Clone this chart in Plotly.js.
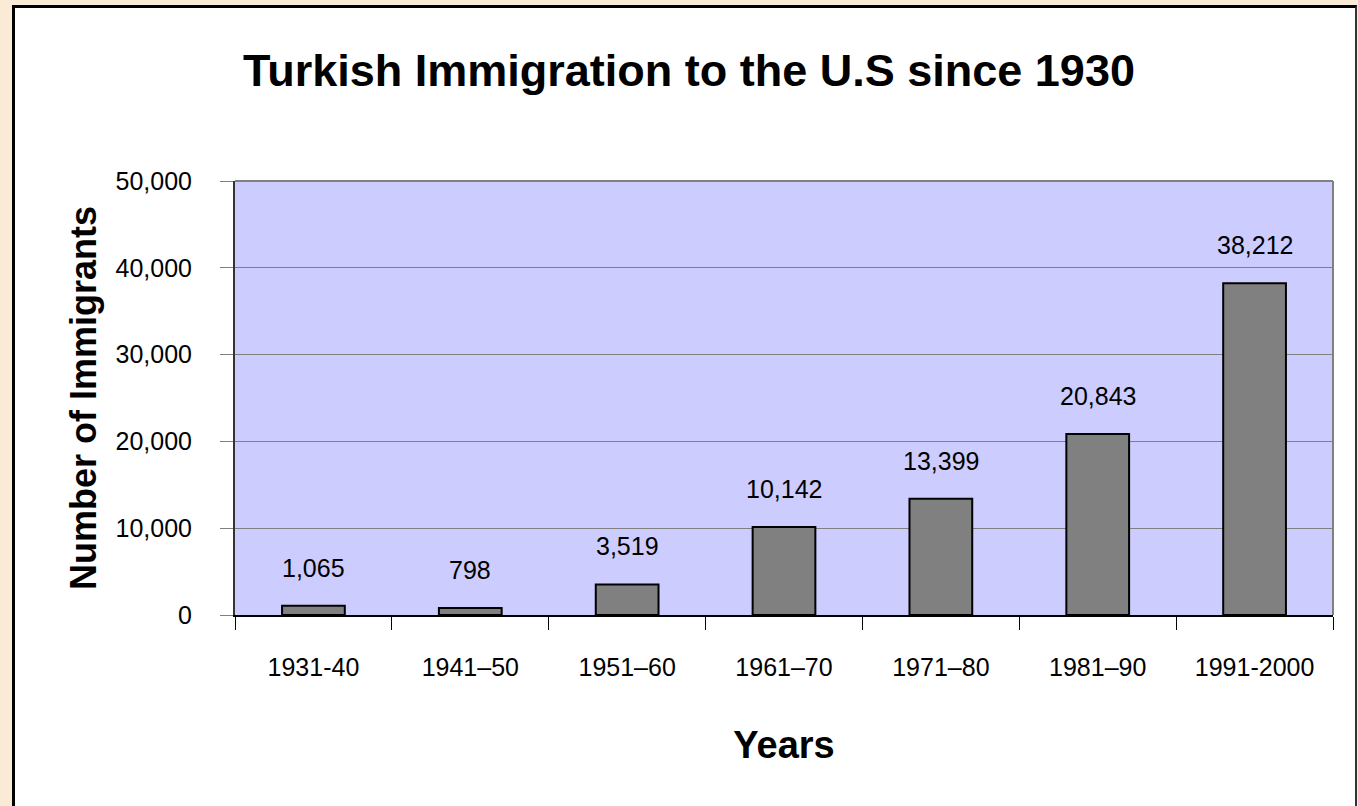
<!DOCTYPE html>
<html>
<head>
<meta charset="utf-8">
<script src="https://cdn.plot.ly/plotly-3.0.1.min.js"></script>
<style>
  html, body { margin: 0; padding: 0; background: #FAEBD7; width: 1358px; height: 806px; overflow: hidden; }
  #frame { position: absolute; left: 12px; top: 5px; width: 1340px; height: 810px;
           border-top: 3px solid #000; border-left: 3px solid #000; border-right: 2px solid #333;
           background: #fff; }
  #chart { width: 1340px; height: 798px; }
</style>
</head>
<body>
<div id="frame"><div id="chart"></div></div>
<script>
const categories = ["1931-40", "1941\u201350", "1951\u201360", "1961\u201370", "1971\u201380", "1981\u201390", "1991-2000"];
const immigrants = [1065, 798, 3519, 10142, 13399, 20843, 38212];
const yTickValues = [0, 10000, 20000, 30000, 40000, 50000];

const FONT = '"Liberation Sans", Arial, Helvetica, sans-serif';

const annotations = categories.map((c, i) => ({
  x: c, y: immigrants[i], xref: 'x', yref: 'y',
  text: immigrants[i].toLocaleString('en-US'),
  showarrow: false, yanchor: 'middle', yshift: 38,
  font: { family: FONT, size: 25, color: '#000' }
}));

const trace = {
  type: 'bar', x: categories, y: immigrants,
  marker: { color: '#808080', line: { color: '#000', width: 2 } },
  hoverinfo: 'x+y'
};

const layout = {
  width: 1340, height: 798,
  margin: { l: 220, r: 22, t: 173, b: 191 },
  paper_bgcolor: '#ffffff', plot_bgcolor: '#CCCCFF',
  font: { family: FONT, color: '#000' },
  bargap: 0.6,
  showlegend: false,
  title: { text: 'Turkish Immigration to the U.S since 1930', x: 0.503, xanchor: 'center',
           y: 1 - 62 / 798, yanchor: 'middle', yref: 'container',
           font: { family: FONT, size: 45, color: '#000', weight: 'bold' } },
  xaxis: {
    type: 'category', tickson: 'boundaries', ticks: 'outside', ticklen: 13, tickwidth: 1, tickcolor: '#000',
    showline: true, linecolor: '#000', linewidth: 1.5, showgrid: false, zeroline: false,
    tickfont: { family: FONT, size: 25, color: '#000' }, ticklabelstandoff: 29,
    title: { text: 'Years', standoff: 52, font: { family: FONT, size: 38, color: '#000', weight: 'bold' } }
  },
  yaxis: {
    range: [0, 50000], tickvals: yTickValues, tickformat: ',d',
    ticks: 'outside', ticklen: 13, tickwidth: 1, tickcolor: '#808080',
    showline: true, linecolor: '#333', linewidth: 2,
    showgrid: true, gridcolor: '#808080', gridwidth: 1, zeroline: false,
    tickfont: { family: FONT, size: 25, color: '#000' }, ticklabelstandoff: 23,
    title: { text: 'Number of Immigrants', standoff: 8, font: { family: FONT, size: 36, color: '#000', weight: 'bold' } }
  },
  shapes: [
    { type: 'line', xref: 'paper', yref: 'paper', x0: 1, x1: 1, y0: 0, y1: 1, line: { color: '#808080', width: 2 } },
    { type: 'line', xref: 'paper', yref: 'paper', x0: 0, x1: 1, y0: 1, y1: 1, line: { color: '#808080', width: 2 } }
  ],
  annotations: annotations
};

Plotly.newPlot('chart', [trace], layout, { displayModeBar: false, staticPlot: true });
</script>
</body>
</html>
